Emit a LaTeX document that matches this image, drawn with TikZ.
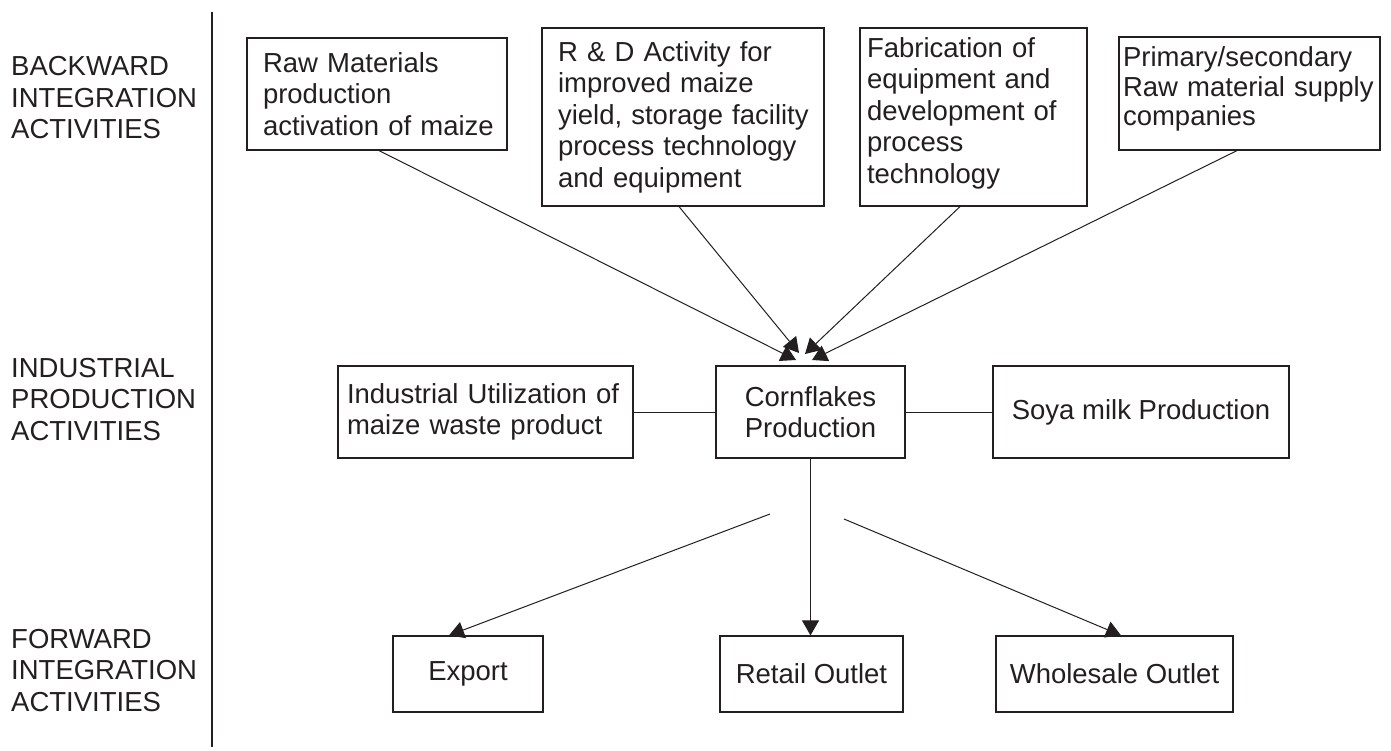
\documentclass[tikz,border=0pt]{standalone}
\usepackage{fontspec}
\setmainfont{Liberation Sans}
\usetikzlibrary{arrows.meta}
\definecolor{ink}{HTML}{231F20}
\begin{document}
\begin{tikzpicture}[x=1pt,y=-1pt,
  every node/.style={font=\fontsize{27.5}{31.5}\selectfont, text=ink},
  lbl/.style={anchor=west, align=left, inner sep=0pt},
  lbox/.style={draw=ink, line width=1.2pt, inner ysep=0pt, align=left},
  cbox/.style={draw=ink, line width=1.2pt, inner sep=0pt, align=center},
  frame/.style={draw=ink, line width=1.2pt, inner sep=0pt},
  btext/.style={inner sep=0pt, align=left},
  conn/.style={draw=ink, line width=1pt},
  arr/.style={conn, -{Triangle[length=15pt,width=17pt]}},
  divider/.style={draw=ink, line width=2pt}
]
\useasboundingbox (0,0) rectangle (1391,751);

% row labels
\node[lbl] (lb1) at (11,97.6) {BACKWARD\\INTEGRATION\\ACTIVITIES};
\node[lbl] (lb2) at (11,399.2) {INDUSTRIAL\\PRODUCTION\\ACTIVITIES};
\node[lbl] (lb3) at (11,670.2) {FORWARD\\INTEGRATION\\ACTIVITIES};

% divider
\coordinate (dtop) at (212,12);
\coordinate (dbot) at (212,747);
\draw[divider] (dtop) -- (dbot);

% backward boxes
\node[lbox, text width=228pt, inner xsep=16pt, minimum height=112pt] (raw) at (377,94)
  {\mbox{Raw Materials}\\\mbox{production}\\\mbox{activation of maize}};
\node[lbox, text width=250pt, inner xsep=16pt, minimum height=178pt] (rd) at (683,117)
  {\mbox{R \& D Activity for}\\\mbox{improved maize}\\\mbox{yield, storage facility}\\\mbox{process technology}\\\mbox{and equipment}};
\node[frame, minimum width=227pt, minimum height=178pt] (fab) at (973.5,117) {};
\node[btext, text width=213pt] (fabtext) at ([yshift=4pt]fab.center)
  {\mbox{Fabrication of}\\\mbox{equipment and}\\\mbox{development of}\\\mbox{process}\\\mbox{technology}};
\node[frame, minimum width=261pt, minimum height=113pt] (pri) at (1249.5,93.5) {};
\node[btext, text width=253pt, font=\fontsize{27.5}{29.5}\selectfont] (pritext) at ([yshift=4.5pt]pri.center)
  {\mbox{Primary/secondary}\\\mbox{Raw material supply}\\\mbox{companies}};

% industrial boxes
\node[lbox, text width=277pt, inner xsep=9pt, minimum height=92pt] (ind) at (485.5,412)
  {\mbox{Industrial Utilization of}\\\mbox{maize waste product}};
\node[cbox, minimum width=189pt, minimum height=92pt] (cf) at (810.5,412)
  {Cornflakes\\Production};
\node[cbox, minimum width=296pt, minimum height=92pt] (soya) at (1141,412)
  {Soya milk Production};

% forward boxes
\node[cbox, minimum width=150pt, minimum height=76pt] (exp) at (468,674) {Export};
\node[cbox, minimum width=183pt, minimum height=76pt] (ret) at (811.5,674) {Retail Outlet};
\node[cbox, minimum width=237pt, minimum height=76pt] (whl) at (1114.5,674) {Wholesale Outlet};

% arrow tips into cornflakes
\coordinate (t1) at (796,360);
\coordinate (t2) at (799,353);
\coordinate (t3) at (805,354);
\coordinate (t4) at (812,360);
\draw[arr] ([xshift=2pt]raw.south) -- (t1);
\draw[arr] ([xshift=-4pt]rd.south) -- (t2);
\draw[arr] ([xshift=-13.5pt]fab.south) -- (t3);
\draw[arr] ([xshift=-12.5pt]pri.south) -- (t4);

% side links
\draw[conn] (ind.east) -- (cf.west);
\draw[conn] (cf.east) -- (soya.west);

% forward arrows
\coordinate (e0) at (770,514);
\coordinate (w0) at (844,519);
\draw[arr] (e0) -- ([xshift=-19pt]exp.north);
\draw[arr] (cf.south) -- (cf.south |- ret.north);
\draw[arr] (w0) -- ([xshift=6.5pt]whl.north);
\end{tikzpicture}
\end{document}
